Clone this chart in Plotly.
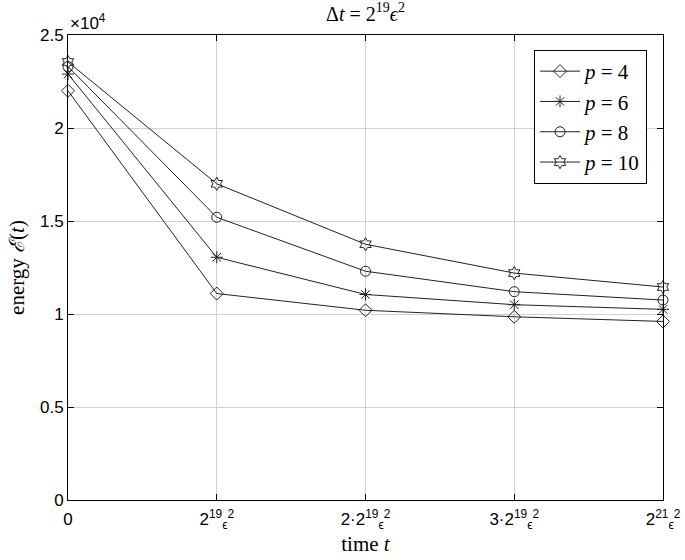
import plotly.graph_objects as go

# x positions (in units of 2^19 eps^2) and tick labels
t_steps = [0, 1, 2, 3, 4]
x_ticktext = [
    "0",
    "2<sup>19</sup><sub>ϵ</sub><sup>2</sup>",
    "2·2<sup>19</sup><sub>ϵ</sub><sup>2</sup>",
    "3·2<sup>19</sup><sub>ϵ</sub><sup>2</sup>",
    "2<sup>21</sup><sub>ϵ</sub><sup>2</sup>",
]

# energy values
energy_p4 = [22000, 11100, 10200, 9850, 9600]
energy_p6 = [22900, 13050, 11050, 10500, 10250]
energy_p8 = [23300, 15200, 12300, 11200, 10750]
energy_p10 = [23550, 17000, 13750, 12200, 11450]

series_labels = ["<i>p</i> = 4", "<i>p</i> = 6", "<i>p</i> = 8", "<i>p</i> = 10"]
series_symbols = ["diamond-open", "asterisk-open", "circle-open", "hexagram-open"]

y_tickvals = [0, 5000, 10000, 15000, 20000, 25000]
y_ticktext = ["0", "0.5", "1", "1.5", "2", "2.5"]

SERIF = "Liberation Serif, DejaVu Serif, serif"
SANS = "Liberation Sans, Arial, sans-serif"

fig = go.Figure()
for vals, label, sym in zip([energy_p4, energy_p6, energy_p8, energy_p10],
                            series_labels, series_symbols):
    fig.add_trace(go.Scatter(
        x=t_steps, y=vals, name=label, mode="lines+markers",
        line=dict(color="#222222", width=1),
        marker=dict(symbol=sym, size=10, color="#222222", line=dict(width=1)),
        cliponaxis=False,
    ))

axis_common = dict(
    showline=True, linecolor="black", linewidth=1, mirror="ticks",
    ticks="inside", ticklen=6, tickcolor="black", automargin=False,
    showgrid=True, gridcolor="#d0d0d0", gridwidth=1, zeroline=False,
    tickfont=dict(family=SANS, size=17, color="black"),
)

fig.update_layout(
    width=685, height=560,
    margin=dict(l=68, r=22, t=35, b=60),
    paper_bgcolor="white", plot_bgcolor="white",
    title=dict(text="Δ<i>t</i> = 2<sup>19</sup><i>ϵ</i><sup>2</sup>",
               x=(68 + 663) / 2 / 685, xanchor="center", y=0.988, yanchor="top",
               font=dict(family=SERIF, size=20, color="black")),
    xaxis=dict(axis_common, range=[0, 4], tickvals=t_steps, ticktext=x_ticktext,
               ticklabelstandoff=4,
               title=dict(text="time <i>t</i>", standoff=4,
                          font=dict(family=SERIF, size=21, color="black"))),
    yaxis=dict(axis_common, range=[0, 25000], tickvals=y_tickvals, ticktext=y_ticktext,
               title=dict(text="energy <i>ℰ</i>(<i>t</i>)", standoff=9,
                          font=dict(family=SERIF, size=21, color="black"))),
    legend=dict(x=1 - 16 / 595, xanchor="right", y=1 - 15 / 465, yanchor="top",
                bgcolor="white", bordercolor="black", borderwidth=1,
                font=dict(family=SERIF, size=21, color="black"),
                itemwidth=40, tracegroupgap=0),
    showlegend=True,
)

fig.add_annotation(text="×10<sup>4</sup>", xref="paper", yref="paper",
                   x=0, y=1, xanchor="left", yanchor="bottom", showarrow=False,
                   font=dict(family=SANS, size=17, color="black"))

# drop the browser's default 8px body margin so the figure sits at (0, 0)
fig.write_html("out.html", config={"displayModeBar": False},
               post_script="document.body.style.margin='0';document.body.style.overflow='hidden';")
